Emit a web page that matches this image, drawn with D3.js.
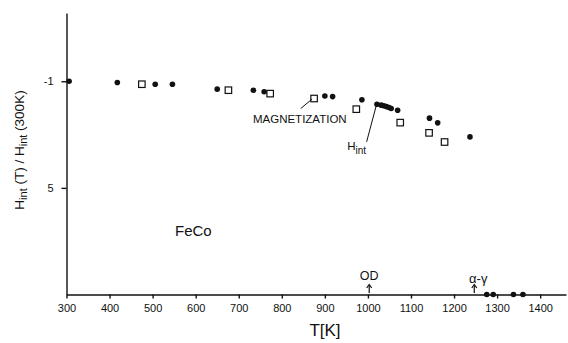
<!DOCTYPE html>
<html>
<head>
<meta charset="utf-8">
<script src="https://cdn.jsdelivr.net/npm/d3@7"></script>
<style>
  body { margin: 0; background: #fff; }
  svg { display: block; font-family: "Liberation Sans", Arial, Helvetica, sans-serif; }
  .axis path, .axis line { stroke: #111; stroke-width: 1.4; }
  .axis text { fill: #111; font-size: 11px; }
</style>
</head>
<body>
<div id="chart"></div>
<script>
// H_int(T)/H_int(300K) for FeCo, filled circles
const hintT = [306, 418, 506, 546, 650, 734, 759, 900, 918, 986, 1021,
  1031, 1037, 1043, 1049, 1054, 1069, 1143, 1162, 1237,
  1276, 1291, 1338, 1360];
const hintV = [1.0, 0.994, 0.986, 0.986, 0.963, 0.958, 0.951, 0.931, 0.928, 0.913, 0.892,
  0.888, 0.885, 0.881, 0.877, 0.872, 0.864, 0.827, 0.805, 0.739,
  0, 0, 0, 0];

// magnetization, open squares
const magT = [475, 676, 773, 875, 973, 1075, 1142, 1178];
const magV = [0.986, 0.958, 0.942, 0.919, 0.869, 0.806, 0.758, 0.715];

const xTicks = [300, 400, 500, 600, 700, 800, 900, 1000, 1100, 1200, 1300, 1400];
const xTickLabels = ["300", "400", "500", "600", "700", "800", "900", "1000", "1100", "1200", "1300", "1400"];
const yTicks = [0.5, 1.0];
const yTickLabels = ["5", "-1"];

// transition arrows (OD order-disorder, alpha-gamma)
const arrowT = [1003, 1247];
const arrowLabels = ["OD", "α-γ"];

const W = 568, H = 343;
const svg = d3.select('#chart').append('svg')
  .attr('width', W)
  .attr('height', H);

const x = d3.scaleLinear().domain([300, 1460]).range([66.5, 566]);
const y = d3.scaleLinear().domain([0, 1.32]).range([294.5, 13]);

// axes
svg.append('g')
  .attr('class', 'axis')
  .attr('transform', `translate(0, ${y(0)})`)
  .call(d3.axisBottom(x)
    .tickValues(xTicks)
    .tickFormat((d, i) => xTickLabels[i])
    .tickSize(4)
    .tickSizeOuter(0)
    .tickPadding(6));

svg.append('g')
  .attr('class', 'axis')
  .attr('transform', `translate(${x(300)}, 0)`)
  .call(d3.axisLeft(y)
    .tickValues(yTicks)
    .tickFormat((d, i) => yTickLabels[i])
    .tickSize(5)
    .tickSizeOuter(0)
    .tickPadding(8));

// squares
const sq = 6.5;
svg.selectAll('rect.mag')
  .data(magT)
  .enter()
  .append('rect')
  .attr('class', 'mag')
  .attr('x', (d) => x(d) - sq / 2)
  .attr('y', (d, i) => y(magV[i]) - sq / 2)
  .attr('width', sq)
  .attr('height', sq)
  .attr('fill', 'white')
  .attr('stroke', '#111')
  .attr('stroke-width', 1.2);

// circles
svg.selectAll('circle.hint')
  .data(hintT)
  .enter()
  .append('circle')
  .attr('class', 'hint')
  .attr('cx', (d) => x(d))
  .attr('cy', (d, i) => y(hintV[i]))
  .attr('r', 2.8)
  .attr('fill', '#111');

// annotation leaders
svg.append('line')
  .attr('x1', x(844)).attr('y1', y(0.872))
  .attr('x2', x(870)).attr('y2', y(0.916))
  .attr('stroke', '#111').attr('stroke-width', 1);

svg.append('text')
  .attr('x', x(733)).attr('y', y(0.802))
  .attr('font-size', 11.5)
  .attr('fill', '#111')
  .text('MAGNETIZATION');

svg.append('line')
  .attr('x1', x(997)).attr('y1', y(0.716))
  .attr('x2', x(1019)).attr('y2', y(0.883))
  .attr('stroke', '#111').attr('stroke-width', 1);

const hl = svg.append('text')
  .attr('x', x(952)).attr('y', y(0.679))
  .attr('font-size', 11.5)
  .attr('fill', '#111');
hl.append('tspan').text('H');
hl.append('tspan').attr('dy', 4).attr('font-size', 10).text('int');

svg.append('text')
  .attr('x', x(552)).attr('y', y(0.274))
  .attr('font-size', 15)
  .attr('fill', '#111')
  .text('FeCo');

// arrows
arrowT.forEach((t, i) => {
  svg.append('line')
    .attr('x1', x(t)).attr('y1', y(0) - 1.5)
    .attr('x2', x(t)).attr('y2', y(0) - 9)
    .attr('stroke', '#111').attr('stroke-width', 1.2);
  svg.append('path')
    .attr('d', `M${x(t) - 2.5},${y(0) - 6.5} L${x(t)},${y(0) - 10} L${x(t) + 2.5},${y(0) - 6.5}`)
    .attr('fill', 'none').attr('stroke', '#111').attr('stroke-width', 1.2);
});

svg.append('text')
  .attr('x', x(arrowT[0])).attr('y', 280)
  .attr('text-anchor', 'middle')
  .attr('font-size', 12.5)
  .attr('fill', '#111')
  .text(arrowLabels[0]);

svg.append('text')
  .attr('x', x(arrowT[1]) + 4).attr('y', 283)
  .attr('text-anchor', 'middle')
  .attr('font-size', 13)
  .attr('fill', '#111')
  .text(arrowLabels[1]);

// axis titles
svg.append('text')
  .attr('x', 325).attr('y', 336)
  .attr('text-anchor', 'middle')
  .attr('font-size', 17)
  .attr('fill', '#111')
  .text('T[K]');

const yl = svg.append('text')
  .attr('transform', 'translate(24, 150) rotate(-90)')
  .attr('text-anchor', 'middle')
  .attr('font-size', 13.5)
  .attr('fill', '#111');
yl.append('tspan').text('H');
yl.append('tspan').attr('dy', 3).attr('font-size', 11).text('int');
yl.append('tspan').attr('dy', -3).text(' (T) / H');
yl.append('tspan').attr('dy', 3).attr('font-size', 11).text('int');
yl.append('tspan').attr('dy', -3).text(' (300K)');
</script>
</body>
</html>
